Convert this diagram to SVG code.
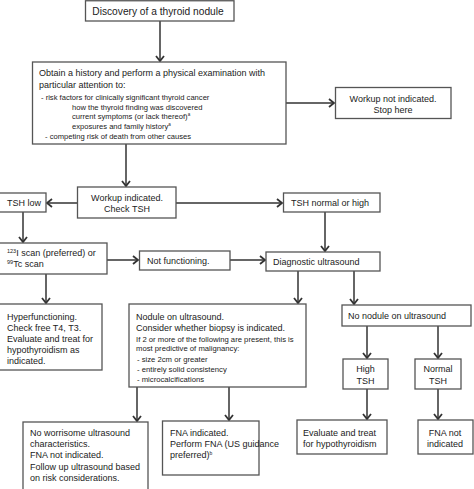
<svg xmlns="http://www.w3.org/2000/svg" width="474" height="489" viewBox="0 0 474 489">
<style>
.b{fill:#fff;stroke:#555;stroke-width:1.3}
.t{font-family:"Liberation Sans",Arial,sans-serif;font-size:9px;fill:#222}
.s{font-family:"Liberation Sans",Arial,sans-serif;font-size:7.6px;fill:#222}
.n{font-size:7.7px}
.m{text-anchor:middle}
.c line{stroke:#333;stroke-width:1.5;marker-end:url(#ah)}
</style>
<defs>
<marker id="ah" markerUnits="userSpaceOnUse" markerWidth="12" markerHeight="12" refX="6" refY="5" orient="auto" viewBox="0 0 12 12">
<path d="M1,1 L6,5 L1,9" fill="none" stroke="#333" stroke-width="1.8"/>
</marker>
</defs>
<rect width="474" height="489" fill="#fff"/>
<g class="c" id="connectors">
<line x1="160" y1="21" x2="160" y2="61"/>
<line x1="286" y1="103" x2="334" y2="103"/>
<line x1="126" y1="144" x2="126" y2="186"/>
<line x1="77" y1="203" x2="47" y2="203"/>
<line x1="176" y1="203" x2="282" y2="203"/>
<line x1="23" y1="212" x2="23" y2="242"/>
<line x1="325" y1="212" x2="325" y2="251"/>
<line x1="107" y1="260" x2="138" y2="260"/>
<line x1="230" y1="260" x2="265" y2="260"/>
<line x1="46" y1="274" x2="46" y2="303"/>
<line x1="298" y1="271" x2="298" y2="303"/>
<line x1="354" y1="271" x2="354" y2="304"/>
<line x1="367" y1="326" x2="367" y2="358"/>
<line x1="438" y1="326" x2="438" y2="358"/>
<line x1="137" y1="387" x2="137" y2="421"/>
<line x1="229" y1="387" x2="229" y2="420"/>
<line x1="367" y1="389" x2="367" y2="419"/>
<line x1="438" y1="389" x2="438" y2="419"/>
</g>
<g id="discovery">
<rect class="b" x="85.5" y="0.75" width="148.5" height="20.25"/>
<text class="t m" x="158" y="15" style="font-size:10.2px">Discovery of a thyroid nodule</text>
</g>
<g id="history">
<rect class="b" x="32.5" y="62" width="253.5" height="82"/>
<text class="t" x="39" y="76">Obtain a history and perform a physical examination with</text>
<text class="t" x="39" y="88">particular attention to:</text>
<text class="s" x="41" y="100">- risk factors for clinically significant thyroid cancer</text>
<text class="s" x="72" y="109.5">how the thyroid finding was discovered</text>
<text class="s" x="72" y="119">current symptoms (or lack thereof)<tspan font-size="4.5" dy="-3">a</tspan></text>
<text class="s" x="72" y="129">exposures and family history<tspan font-size="4.5" dy="-3">a</tspan></text>
<text class="s" x="45" y="138.5">- competing risk of death from other causes</text>
</g>
<g id="workup-not">
<rect class="b" x="335.5" y="87.5" width="115.5" height="31"/>
<text class="t m" x="393" y="102">Workup not indicated.</text>
<text class="t m" x="393" y="112.5">Stop here</text>
</g>
<g id="workup">
<rect class="b" x="77.5" y="187" width="98.5" height="31"/>
<text class="t m" x="127" y="201">Workup indicated.</text>
<text class="t m" x="127" y="211.5">Check TSH</text>
</g>
<g id="tsh-low">
<rect class="b" x="-1" y="193" width="47" height="19"/>
<text class="t" x="7" y="206">TSH low</text>
</g>
<g id="tsh-normal">
<rect class="b" x="283.5" y="193" width="96.5" height="19"/>
<text class="t" x="291" y="206">TSH normal or high</text>
</g>
<g id="scan">
<rect class="b" x="-1" y="243" width="108" height="31"/>
<text class="t" x="7" y="256"><tspan font-size="5.5" dy="-3">123</tspan><tspan dy="3">I scan (preferred) or</tspan></text>
<text class="t" x="7" y="267"><tspan font-size="5.5" dy="-3">99</tspan><tspan dy="3">Tc scan</tspan></text>
</g>
<g id="not-functioning">
<rect class="b" x="139.5" y="251" width="90.5" height="19"/>
<text class="t" x="147" y="264">Not functioning.</text>
</g>
<g id="diag-us">
<rect class="b" x="266" y="252" width="114" height="19"/>
<text class="t" x="273" y="265">Diagnostic ultrasound</text>
</g>
<g id="hyper">
<rect class="b" x="-1" y="304" width="103" height="66"/>
<text class="t" x="7" y="320">Hyperfunctioning.</text>
<text class="t" x="7" y="331">Check free T4, T3.</text>
<text class="t" x="7" y="342">Evaluate and treat for</text>
<text class="t" x="7" y="353">hypothyroidism as</text>
<text class="t" x="7" y="364">indicated.</text>
</g>
<g id="nodule">
<rect class="b" x="129" y="304" width="177" height="83"/>
<text class="t" x="136" y="320">Nodule on ultrasound.</text>
<text class="t" x="136" y="331">Consider whether biopsy is indicated.</text>
<text class="s n" x="136" y="341.5">If 2 or more of the following are present, this is</text>
<text class="s n" x="136" y="351">most predictive of malignancy:</text>
<text class="s n" x="137" y="362">- size 2cm or greater</text>
<text class="s n" x="137" y="372">- entirely solid consistency</text>
<text class="s n" x="137" y="381.5">- microcalcifications</text>
</g>
<g id="no-nodule">
<rect class="b" x="342" y="305" width="129" height="21"/>
<text class="t" x="348" y="319">No nodule on ultrasound</text>
</g>
<g id="high-tsh">
<rect class="b" x="343" y="359" width="45" height="30"/>
<text class="t m" x="365.5" y="372">High</text>
<text class="t m" x="365.5" y="384">TSH</text>
</g>
<g id="normal-tsh">
<rect class="b" x="415" y="359" width="46" height="30"/>
<text class="t m" x="438" y="372">Normal</text>
<text class="t m" x="438" y="384">TSH</text>
</g>
<g id="no-worrisome">
<rect class="b" x="23" y="422" width="125" height="68"/>
<text class="t" x="30" y="436">No worrisome ultrasound</text>
<text class="t" x="30" y="447">characteristics.</text>
<text class="t" x="30" y="458">FNA not indicated.</text>
<text class="t" x="30" y="470">Follow up ultrasound based</text>
<text class="t" x="30" y="481">on risk considerations.</text>
</g>
<g id="fna">
<rect class="b" x="162.5" y="421" width="96.5" height="54"/>
<text class="t" x="170" y="436">FNA indicated.</text>
<text class="t" x="170" y="447">Perform FNA (US guidance</text>
<text class="t" x="170" y="458">preferred)<tspan font-size="5" dy="-3">b</tspan></text>
</g>
<g id="evaluate">
<rect class="b" x="297" y="420" width="90" height="34"/>
<text class="t" x="303" y="436">Evaluate and treat</text>
<text class="t" x="303" y="447">for hypothyroidism</text>
</g>
<g id="fna-not">
<rect class="b" x="418" y="420" width="55" height="34"/>
<text class="t m" x="445" y="436">FNA not</text>
<text class="t m" x="445" y="447">indicated</text>
</g>
</svg>
